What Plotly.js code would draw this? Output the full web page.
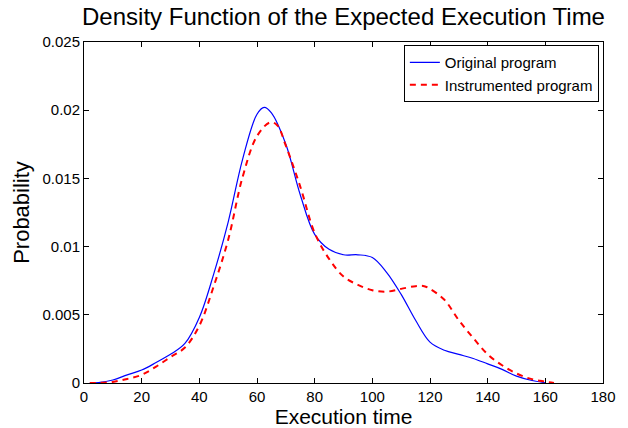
<!DOCTYPE html>
<html>
<head>
<meta charset="utf-8">
<script src="https://cdn.plot.ly/plotly-3.0.1.min.js"></script>
<style>html,body{margin:0;padding:0;background:#fff;}#chart{width:628px;height:428px;}</style>
</head>
<body>
<div id="chart"></div>
<script>
var xOriginal = [2, 5, 10, 15, 20, 25, 30, 35, 40, 45, 50, 55, 60, 62.5, 65, 70, 75, 80, 85, 90, 95, 100, 105, 110, 115, 120, 125, 130, 135, 140, 145, 150, 155, 160];
var yOriginal = [0, 0.00003, 0.00022, 0.0006, 0.00095, 0.0015, 0.0021, 0.0029, 0.0048, 0.0080, 0.0118, 0.0164, 0.0197, 0.0202, 0.0198, 0.0175, 0.0138, 0.0109, 0.0098, 0.0094, 0.0094, 0.0092, 0.0081, 0.0065, 0.0046, 0.0030, 0.0024, 0.0021, 0.0018, 0.0014, 0.0010, 0.0005, 0.0002, 0.00002];
var xInstrumented = [2, 5, 10, 15, 20, 25, 30, 35, 40, 45, 50, 55, 60, 64.5, 67, 70, 75, 80, 85, 90, 95, 100, 105, 110, 115, 118, 120, 125, 130, 135, 140, 145, 150, 155, 160, 163];
var yInstrumented = [0, 0.00001, 0.00008, 0.0003, 0.0006, 0.0012, 0.0019, 0.0026, 0.0042, 0.0071, 0.0105, 0.0151, 0.0181, 0.0191, 0.0189, 0.0174, 0.0144, 0.0110, 0.0091, 0.0078, 0.0072, 0.0068, 0.0067, 0.0069, 0.0071, 0.0071, 0.0069, 0.0061, 0.0046, 0.0033, 0.0021, 0.0013, 0.0007, 0.0003, 0.0001, 0];
var seriesNames = ["Original program", "Instrumented program"];
var xTicks = [0, 20, 40, 60, 80, 100, 120, 140, 160, 180];
var yTicks = [0, 0.005, 0.01, 0.015, 0.02, 0.025];
var yTickText = ["0", "0.005", "0.01", "0.015", "0.02", "0.025"];

var font = "Liberation Sans, Arial, Helvetica, sans-serif";
var traces = [
  {x: xOriginal, y: yOriginal, name: seriesNames[0], mode: "lines",
   line: {color: "#0000ff", width: 1.2, shape: "spline", smoothing: 1}},
  {x: xInstrumented, y: yInstrumented, name: seriesNames[1], mode: "lines",
   line: {color: "#ff0000", width: 2, dash: "6px,5px", shape: "spline", smoothing: 1}}
];
var axisCommon = {showline: true, linecolor: "#000", linewidth: 1, mirror: "ticks",
  ticks: "inside", ticklen: 5, tickcolor: "#000", showgrid: false, zeroline: false,
  tickfont: {family: font, size: 15, color: "#000"}};
var layout = {
  width: 628, height: 428,
  margin: {l: 84, r: 25, t: 42, b: 45},
  paper_bgcolor: "#fff", plot_bgcolor: "#fff",
  title: {text: "Density Function of the Expected Execution Time",
    font: {family: font, size: 24, color: "#000"}, xref: "paper", x: 0.5, xanchor: "center",
    yref: "container", y: 0.982, yanchor: "top"},
  xaxis: Object.assign({}, axisCommon, {range: [0, 180], tickvals: xTicks, ticklabelstandoff: 0,
    automargin: false,
    title: {text: "Execution time", font: {family: font, size: 21, color: "#000"}, standoff: 5}}),
  yaxis: Object.assign({}, axisCommon, {range: [0, 0.025], tickvals: yTicks, ticktext: yTickText,
    title: {text: "Probability", font: {family: font, size: 22, color: "#000"}, standoff: 6}}),
  showlegend: true,
  legend: {x: 0.992, y: 0.991, xanchor: "right", yanchor: "top", bgcolor: "#fff",
    bordercolor: "#000", borderwidth: 1, font: {family: font, size: 15, color: "#000"},
    tracegroupgap: 0, itemwidth: 30}
};
Plotly.newPlot("chart", traces, layout, {staticPlot: true, displayModeBar: false});
</script>
</body>
</html>
